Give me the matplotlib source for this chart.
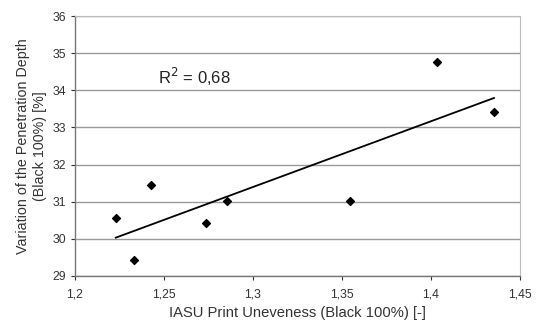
import numpy as np
import matplotlib
matplotlib.use("Agg")
import matplotlib.pyplot as plt
from matplotlib.ticker import FuncFormatter

plt.rcParams['font.family'] = ['Liberation Sans', 'DejaVu Sans']

# data
uneveness = [1.2229, 1.2333, 1.2427, 1.2734, 1.2856, 1.3543, 1.4032, 1.4354]
penetration = [30.56, 29.42, 31.45, 30.42, 31.03, 31.02, 34.76, 33.41]
x_ticks = [1.2, 1.25, 1.3, 1.35, 1.4, 1.45]
y_ticks = [29, 30, 31, 32, 33, 34, 35, 36]

fig = plt.figure(figsize=(5.38, 3.22), dpi=100)
ax = fig.add_axes([0.1394, 0.143, 0.8271, 0.807])

# horizontal grid
for yv in y_ticks:
    ax.axhline(yv, color='#9a9a9a', lw=1.0, zorder=1)

ax.scatter(uneveness, penetration, marker='D', s=16, color='black', zorder=3)

# linear trend line
k, d = np.polyfit(uneveness, penetration, 1)
xs = np.array([min(uneveness), max(uneveness)])
ax.plot(xs, k * xs + d, color='black', lw=1.3, zorder=2)

ax.text(1.2466, 34.36, 'R$^2$ = 0,68', fontsize=12, va='center', ha='left', color='#222222')

ax.set_xlim(1.2, 1.45)
ax.set_ylim(29, 36)
ax.set_xticks(x_ticks)
ax.set_yticks(y_ticks)
ax.xaxis.set_major_formatter(FuncFormatter(lambda v, p: ('%g' % round(v, 2)).replace('.', ',')))
ax.tick_params(labelsize=8.8, colors='#333333', length=3, width=0.8, direction='out')
ax.tick_params(axis='x', pad=6)

for side in ['left', 'bottom']:
    ax.spines[side].set_color('#777777')
    ax.spines[side].set_linewidth(1.0)
for side in ['top', 'right']:
    ax.spines[side].set_color('#bbbbbb')
    ax.spines[side].set_linewidth(0.8)

ax.set_xlabel('IASU Print Uneveness (Black 100%) [-]', fontsize=10.6, color='#333333', labelpad=4)
ax.set_ylabel('Variation of the Penetration Depth\n(Black 100%) [%]', fontsize=10.3, color='#333333',
              labelpad=4, linespacing=1.25)

fig.savefig('out.png', dpi=100)
